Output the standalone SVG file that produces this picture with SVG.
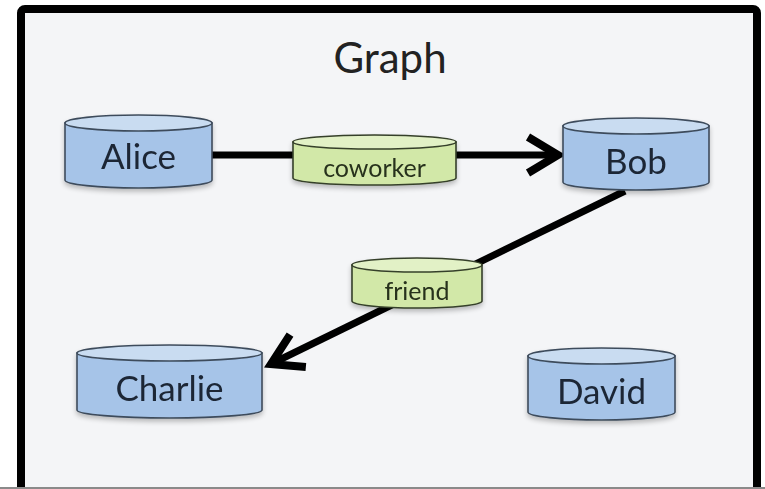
<svg xmlns="http://www.w3.org/2000/svg" width="765" height="489" viewBox="0 0 765 489">
  <style>
    .frame { fill: #f4f5f7; stroke: #000; stroke-width: 8; }
    .body-blue { fill: #a6c4e8; stroke: #3e4c5c; stroke-width: 1.6; }
    .top-blue { fill: #c9dcf1; stroke: #3e4c5c; stroke-width: 1.6; }
    .body-green { fill: #d2e8a8; stroke: #36402a; stroke-width: 1.6; }
    .top-green { fill: #e2f1c6; stroke: #36402a; stroke-width: 1.6; }
    .node-text { font-family: Lato, "Open Sans", sans-serif; font-size: 35px; fill: #1c2736; text-anchor: middle; }
    .edge-text { font-family: Lato, "Open Sans", sans-serif; font-size: 25px; fill: #27301c; text-anchor: middle; }
    .title { font-family: Lato, "Open Sans", sans-serif; font-size: 42px; fill: #222; text-anchor: middle; }
    .edge { stroke: #000; stroke-width: 7; fill: none; }
  </style>
  <defs>
    <marker id="chevron" markerUnits="userSpaceOnUse" markerWidth="60" markerHeight="60" viewBox="-40 -30 50 60" refX="0" refY="0" orient="auto">
      <path d="M-30,-18 L0,0 L-30,18" fill="none" stroke="#000" stroke-width="8" stroke-linejoin="miter" stroke-linecap="butt"/>
    </marker>
    <filter id="shadow" x="-10%" y="-10%" width="120%" height="140%">
      <feGaussianBlur in="SourceAlpha" stdDeviation="2.5"/>
      <feOffset dy="3" result="b"/>
      <feComponentTransfer><feFuncA type="linear" slope="0.25"/></feComponentTransfer>
      <feMerge><feMergeNode/><feMergeNode in="SourceGraphic"/></feMerge>
    </filter>
  </defs>

  <!-- outer frame -->
  <rect class="frame" x="21" y="9" width="736" height="500" rx="4"/>
  <line x1="0" y1="488" x2="765" y2="488" stroke="#8a8a8a" stroke-width="2"/>

  <text class="title" x="390" y="73">Graph</text>

  <!-- connectors -->
  <g id="connectors">
    <line class="edge" x1="212" y1="155" x2="558" y2="155" marker-end="url(#chevron)"/>
    <line class="edge" x1="625" y1="191" x2="271" y2="364" marker-end="url(#chevron)"/>
  </g>

  <!-- vertex nodes -->
  <g id="alice" filter="url(#shadow)">
    <path class="body-blue" d="M65,123 V180 A73.5,8 0 0 0 212,180 V123 Z"/>
    <ellipse class="top-blue" cx="138.5" cy="123" rx="73.5" ry="8"/>
    <text class="node-text" x="138.5" y="169">Alice</text>
  </g>
  <g id="bob" filter="url(#shadow)">
    <path class="body-blue" d="M563,126 V182 A73,8 0 0 0 709,182 V126 Z"/>
    <ellipse class="top-blue" cx="636" cy="126" rx="73" ry="8"/>
    <text class="node-text" x="636" y="174">Bob</text>
  </g>
  <g id="charlie" filter="url(#shadow)">
    <path class="body-blue" d="M77,353 V410 A92.5,8 0 0 0 262,410 V353 Z"/>
    <ellipse class="top-blue" cx="169.5" cy="353" rx="92.5" ry="8"/>
    <text class="node-text" x="169.5" y="401">Charlie</text>
  </g>
  <g id="david" filter="url(#shadow)">
    <path class="body-blue" d="M528,356 V412 A73.5,8 0 0 0 675,412 V356 Z"/>
    <ellipse class="top-blue" cx="601.5" cy="356" rx="73.5" ry="8"/>
    <text class="node-text" x="601.5" y="404">David</text>
  </g>

  <!-- edge label nodes -->
  <g id="coworker" filter="url(#shadow)">
    <path class="body-green" d="M293,142 V178 A81.5,7 0 0 0 456,178 V142 Z"/>
    <ellipse class="top-green" cx="374.5" cy="142" rx="81.5" ry="7"/>
    <text class="edge-text" x="374.5" y="177">coworker</text>
  </g>
  <g id="friend" filter="url(#shadow)">
    <path class="body-green" d="M352,265 V301 A65,7 0 0 0 482,301 V265 Z"/>
    <ellipse class="top-green" cx="417" cy="265" rx="65" ry="7"/>
    <text class="edge-text" x="417" y="300">friend</text>
  </g>
</svg>
